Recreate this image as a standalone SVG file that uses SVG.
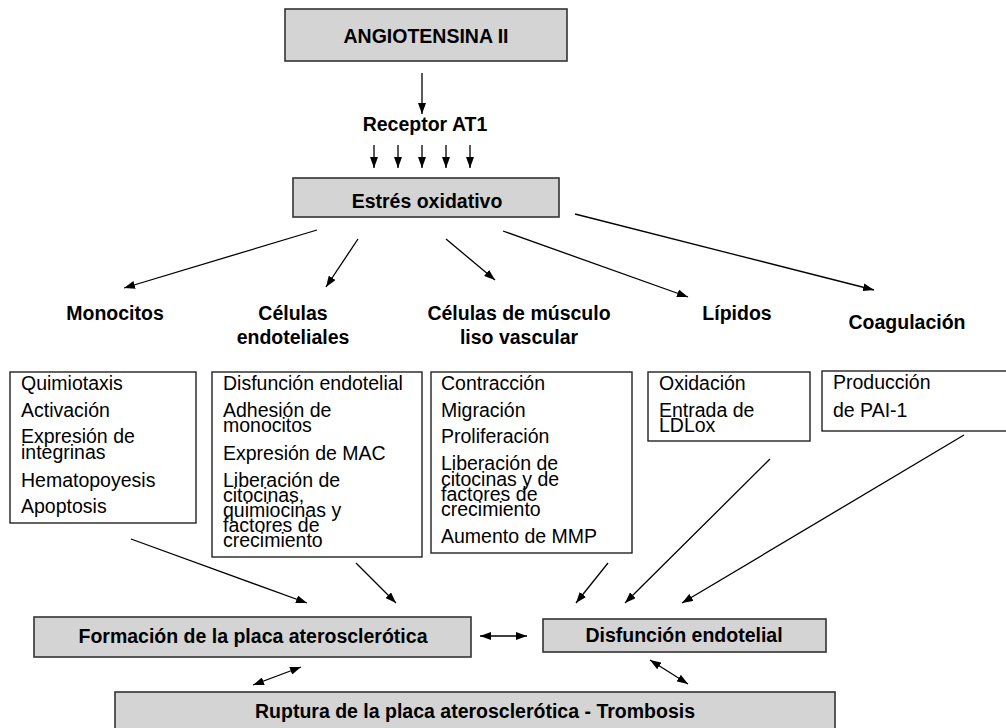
<svg xmlns="http://www.w3.org/2000/svg" width="1006" height="728" viewBox="0 0 1006 728">
<style>
.bg{fill:#ffffff}
.gbox{fill:#d4d4d4;stroke:#333333;stroke-width:1.6}
.wbox{fill:#ffffff;stroke:#222222;stroke-width:1.4}
.b{font-family:"Liberation Sans",Arial,sans-serif;font-weight:bold;font-size:19.5px;fill:#000;text-anchor:middle}
.r{font-family:"Liberation Sans",Arial,sans-serif;font-size:19.5px;fill:#000}
.ln{stroke:#000;stroke-width:1.3;fill:none;marker-end:url(#ah)}
.dl{stroke:#000;stroke-width:1.3;fill:none;marker-end:url(#ah);marker-start:url(#ah)}
</style>
<defs>
<marker id="ah" markerUnits="userSpaceOnUse" markerWidth="11" markerHeight="8" refX="11" refY="4" orient="auto-start-reverse">
<path d="M0,0 L11,4 L0,8 z" fill="#000"/>
</marker>
</defs>
<rect class="bg" x="0" y="0" width="1006" height="728"/>

<g id="angiotensina">
<rect class="gbox" x="285" y="9" width="282" height="52"/>
<text class="b" x="426" y="43">ANGIOTENSINA II</text>
</g>
<g id="receptor">
<text class="b" x="425" y="131">Receptor AT1</text>
</g>
<g id="estres">
<rect class="gbox" x="293" y="178" width="266" height="39"/>
<text class="b" x="427" y="208">Estrés oxidativo</text>
</g>

<g id="h-monocitos"><text class="b" x="115" y="320">Monocitos</text></g>
<g id="h-endoteliales"><text class="b" x="293" y="320">Células</text><text class="b" x="293" y="344">endoteliales</text></g>
<g id="h-musculo"><text class="b" x="519" y="320">Células de músculo</text><text class="b" x="519" y="344">liso vascular</text></g>
<g id="h-lipidos"><text class="b" x="737" y="320">Lípidos</text></g>
<g id="h-coagulacion"><text class="b" x="907" y="329">Coagulación</text></g>

<g id="l-monocitos">
<rect class="wbox" x="10" y="372" width="186" height="151"/>
<text class="r" x="21" y="390">Quimiotaxis</text>
<text class="r" x="21" y="417">Activación</text>
<text class="r" x="21" y="443">Expresión de</text>
<text class="r" x="21" y="459">integrinas</text>
<text class="r" x="21" y="487">Hematopoyesis</text>
<text class="r" x="21" y="513">Apoptosis</text>
</g>
<g id="l-endoteliales">
<rect class="wbox" x="212" y="372" width="210" height="185"/>
<text class="r" x="223" y="390">Disfunción endotelial</text>
<text class="r" x="223" y="417">Adhesión de</text>
<text class="r" x="223" y="432">monocitos</text>
<text class="r" x="223" y="460">Expresión de MAC</text>
<text class="r" x="223" y="487">Liberación de</text>
<text class="r" x="223" y="502">citocinas,</text>
<text class="r" x="223" y="517">quimiocinas y</text>
<text class="r" x="223" y="532">factores de</text>
<text class="r" x="223" y="547">crecimiento</text>
</g>
<g id="l-musculo">
<rect class="wbox" x="431" y="372" width="201" height="181"/>
<text class="r" x="441" y="390">Contracción</text>
<text class="r" x="441" y="417">Migración</text>
<text class="r" x="441" y="443">Proliferación</text>
<text class="r" x="441" y="470">Liberación de</text>
<text class="r" x="441" y="486">citocinas y de</text>
<text class="r" x="441" y="501">factores de</text>
<text class="r" x="441" y="516">crecimiento</text>
<text class="r" x="441" y="543">Aumento de MMP</text>
</g>
<g id="l-lipidos">
<rect class="wbox" x="648" y="372" width="162" height="69"/>
<text class="r" x="659" y="390">Oxidación</text>
<text class="r" x="659" y="417">Entrada de</text>
<text class="r" x="659" y="432">LDLox</text>
</g>
<g id="l-coagulacion">
<rect class="wbox" x="822" y="371" width="200" height="60"/>
<text class="r" x="833" y="389">Producción</text>
<text class="r" x="833" y="417">de PAI-1</text>
</g>

<g id="formacion">
<rect class="gbox" x="34" y="617" width="437" height="40"/>
<text class="b" x="253" y="643">Formación de la placa aterosclerótica</text>
</g>
<g id="disfuncion">
<rect class="gbox" x="543" y="619" width="283" height="33"/>
<text class="b" x="684" y="642">Disfunción endotelial</text>
</g>
<g id="ruptura">
<rect class="gbox" x="115" y="692" width="720" height="44"/>
<text class="b" x="475" y="718">Ruptura de la placa aterosclerótica - Trombosis</text>
</g>

<g id="connectors">
<line class="ln" x1="422" y1="73" x2="422" y2="114"/>
<line class="ln" x1="374" y1="145" x2="374" y2="168"/>
<line class="ln" x1="398" y1="145" x2="398" y2="168"/>
<line class="ln" x1="422" y1="145" x2="422" y2="168"/>
<line class="ln" x1="446" y1="145" x2="446" y2="168"/>
<line class="ln" x1="470" y1="145" x2="470" y2="168"/>
<line class="ln" x1="317" y1="230" x2="124" y2="288"/>
<line class="ln" x1="358" y1="239" x2="326" y2="287"/>
<line class="ln" x1="446" y1="239" x2="495" y2="280"/>
<line class="ln" x1="503" y1="231" x2="688" y2="297"/>
<line class="ln" x1="575" y1="214" x2="874" y2="290"/>
<line class="ln" x1="131" y1="539" x2="307" y2="603"/>
<line class="ln" x1="356" y1="563" x2="396" y2="603"/>
<line class="ln" x1="608" y1="563" x2="576" y2="603"/>
<line class="ln" x1="770" y1="459" x2="625" y2="603"/>
<line class="ln" x1="964" y1="435" x2="682" y2="603"/>
<line class="dl" x1="480" y1="636" x2="527" y2="636"/>
<line class="dl" x1="253" y1="685" x2="301" y2="667"/>
<line class="dl" x1="650" y1="660" x2="688" y2="684"/>
</g>
</svg>
